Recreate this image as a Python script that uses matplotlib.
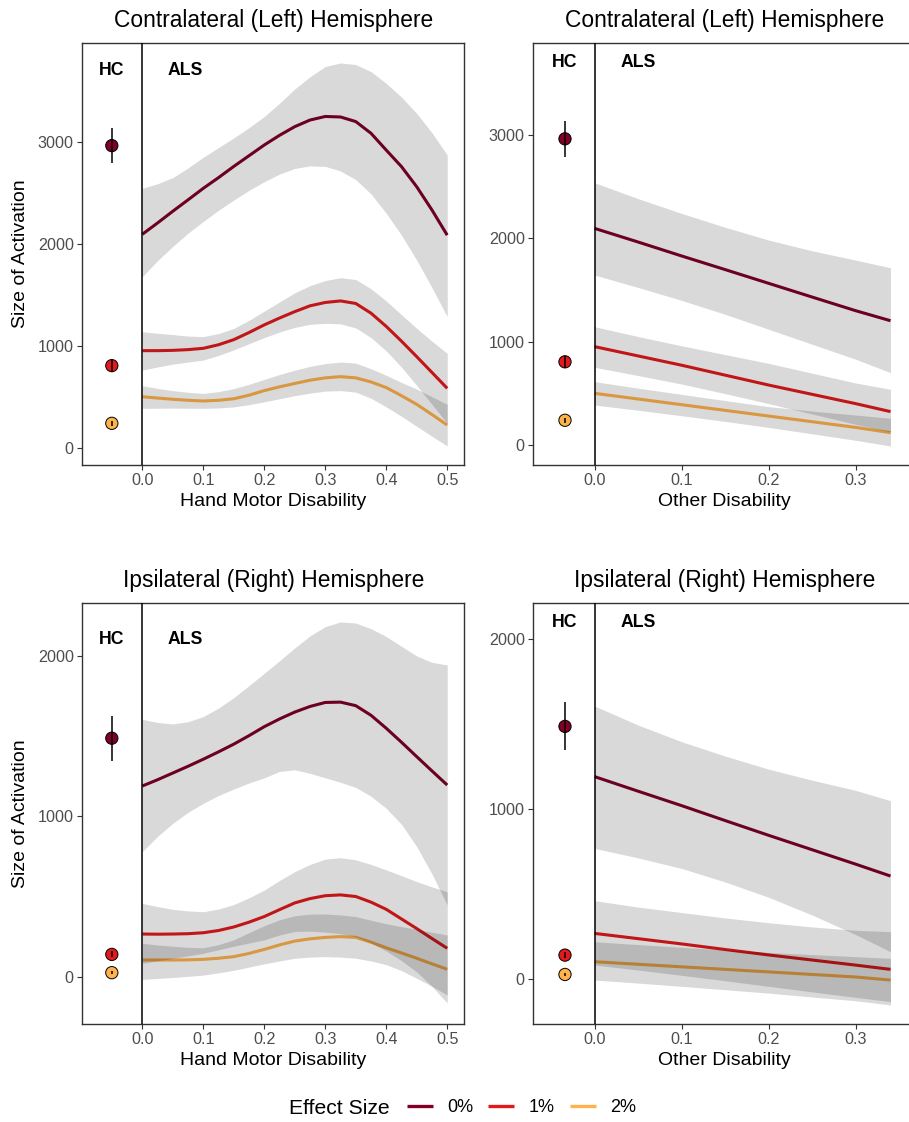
import matplotlib
matplotlib.use('Agg')
import matplotlib.pyplot as plt
from matplotlib.lines import Line2D

plt.rcParams['font.family'] = ['Liberation Sans', 'DejaVu Sans']

# ---------------- data ----------------
GROUPS = ['0%', '1%', '2%']
COLORS = ['#800026', '#E31A1C', '#FEB24C']

# Hand motor disability grid (left panels)
X_HAND = [0.0, 0.025, 0.05, 0.075, 0.10, 0.125, 0.15, 0.175, 0.20, 0.225, 0.25,
          0.275, 0.30, 0.325, 0.35, 0.375, 0.40, 0.425, 0.45, 0.475, 0.50]
# Other disability grid (right panels)
X_OTHER = [0.0, 0.05, 0.10, 0.15, 0.20, 0.25, 0.30, 0.34]

# Top-left: contralateral, hand motor
TL_FIT_0 = [2094, 2205, 2320, 2432, 2545, 2650, 2760, 2865, 2970, 3065, 3150, 3215, 3250, 3245, 3200, 3085, 2920, 2758, 2560, 2332, 2085]
TL_HI_0 = [2545, 2590, 2650, 2745, 2850, 2945, 3040, 3140, 3250, 3380, 3520, 3640, 3740, 3775, 3760, 3690, 3575, 3440, 3280, 3090, 2872]
TL_LO_0 = [1678, 1835, 1975, 2105, 2220, 2330, 2430, 2525, 2610, 2685, 2740, 2765, 2760, 2715, 2630, 2490, 2300, 2085, 1840, 1570, 1285]
TL_FIT_1 = [952, 952, 955, 962, 975, 1010, 1060, 1130, 1205, 1272, 1335, 1392, 1425, 1440, 1415, 1320, 1190, 1045, 893, 738, 582]
TL_HI_1 = [1138, 1122, 1110, 1095, 1090, 1120, 1170, 1250, 1340, 1430, 1520, 1590, 1640, 1668, 1650, 1560, 1440, 1305, 1171, 1045, 926]
TL_LO_1 = [762, 792, 820, 840, 860, 905, 960, 1020, 1080, 1135, 1180, 1210, 1220, 1215, 1175, 1080, 950, 790, 610, 425, 239]
TL_FIT_2 = [500, 487, 475, 465, 458, 465, 480, 515, 560, 597, 630, 662, 685, 697, 685, 645, 590, 510, 425, 325, 222]
TL_HI_2 = [608, 582, 560, 543, 533, 550, 580, 622, 670, 718, 760, 798, 825, 840, 830, 775, 710, 640, 575, 500, 425]
TL_LO_2 = [386, 387, 388, 387, 386, 390, 400, 422, 450, 480, 510, 535, 555, 560, 545, 485, 400, 308, 210, 112, 16]

# Top-right: contralateral, other disability
TR_FIT_0 = [2097, 1965, 1830, 1698, 1565, 1432, 1300, 1203]
TR_HI_0 = [2539, 2385, 2242, 2108, 1984, 1880, 1790, 1716]
TR_LO_0 = [1645, 1525, 1400, 1265, 1120, 975, 830, 700]
TR_FIT_1 = [952, 862, 772, 676, 580, 490, 400, 323]
TR_HI_1 = [1145, 1050, 960, 875, 790, 695, 600, 539]
TR_LO_1 = [752, 672, 590, 497, 400, 300, 200, 125]
TR_FIT_2 = [500, 445, 390, 335, 280, 225, 170, 119]
TR_HI_2 = [613, 550, 490, 430, 371, 328, 290, 258]
TR_LO_2 = [387, 336, 283, 228, 170, 108, 45, -10]

# Bottom-left: ipsilateral, hand motor
BL_FIT_0 = [1189, 1228, 1270, 1312, 1356, 1402, 1450, 1503, 1559, 1607, 1650, 1685, 1710, 1712, 1690, 1630, 1549, 1462, 1372, 1283, 1195]
BL_HI_0 = [1605, 1585, 1576, 1590, 1622, 1675, 1740, 1815, 1892, 1970, 2050, 2125, 2183, 2212, 2205, 2170, 2121, 2060, 2000, 1960, 1944]
BL_LO_0 = [780, 875, 956, 1025, 1081, 1130, 1170, 1208, 1240, 1280, 1290, 1268, 1240, 1212, 1180, 1125, 1050, 950, 811, 640, 447]
BL_FIT_1 = [266, 265, 266, 268, 274, 288, 310, 340, 375, 418, 460, 487, 505, 510, 500, 465, 420, 360, 300, 238, 177]
BL_HI_1 = [457, 437, 420, 410, 405, 422, 450, 492, 540, 600, 655, 700, 733, 742, 729, 700, 666, 630, 593, 560, 530]
BL_LO_1 = [83, 99, 115, 130, 146, 168, 190, 210, 230, 260, 282, 284, 278, 268, 250, 210, 160, 100, 30, -60, -164]
BL_FIT_2 = [104, 104, 104, 105, 108, 115, 125, 145, 170, 198, 222, 236, 245, 250, 245, 215, 180, 148, 115, 80, 46]
BL_HI_2 = [208, 198, 190, 183, 180, 200, 230, 275, 318, 355, 380, 390, 391, 385, 375, 352, 330, 312, 295, 277, 260]
BL_LO_2 = [-17, -11, -5, 2, 10, 24, 40, 60, 80, 98, 115, 122, 125, 122, 115, 98, 75, 38, -10, -60, -114]

# Bottom-right: ipsilateral, other disability
BR_FIT_0 = [1191, 1105, 1020, 932, 845, 760, 675, 605]
BR_HI_0 = [1607, 1495, 1397, 1312, 1235, 1170, 1110, 1049]
BR_LO_0 = [768, 712, 650, 570, 480, 375, 260, 159]
BR_FIT_1 = [267, 236, 205, 172, 140, 110, 80, 55]
BR_HI_1 = [460, 422, 390, 358, 330, 305, 285, 277]
BR_LO_1 = [81, 51, 20, -12, -45, -78, -110, -135]
BR_FIT_2 = [100, 85, 70, 55, 40, 25, 10, -8]
BR_HI_2 = [218, 201, 185, 170, 155, 142, 130, 120]
BR_LO_2 = [-8, -26, -45, -65, -85, -108, -130, -155]

# Healthy controls (mean and interval), per hemisphere
TOP_HC_MEAN = [2964, 805, 239]
TOP_HC_LO = [2790, 745, 210]
TOP_HC_HI = [3134, 862, 265]
BOT_HC_MEAN = [1487, 139, 25]
BOT_HC_LO = [1347, 120, 15]
BOT_HC_HI = [1628, 158, 35]

HAND_TICKS = [0.0, 0.1, 0.2, 0.3, 0.4, 0.5]
HAND_TICKLABELS = ['0.0', '0.1', '0.2', '0.3', '0.4', '0.5']
OTHER_TICKS = [0.0, 0.1, 0.2, 0.3]
OTHER_TICKLABELS = ['0.0', '0.1', '0.2', '0.3']
TOP_YTICKS = [0, 1000, 2000, 3000]
BOT_YTICKS = [0, 1000, 2000]

# ---------------- figure ----------------
W, H = 909, 1122
fig = plt.figure(figsize=(W / 100, H / 100), dpi=100)


def rect(l, r, t, b):
    return [l / W, 1 - b / H, (r - l) / W, (b - t) / H]


panels = [
    dict(rect=rect(82.3, 464.3, 43.3, 465), xlim=(-0.0984, 0.528), ylim=(-170, 3968),
         x=X_HAND, fits=[TL_FIT_0, TL_FIT_1, TL_FIT_2], los=[TL_LO_0, TL_LO_1, TL_LO_2],
         his=[TL_HI_0, TL_HI_1, TL_HI_2], hc=(TOP_HC_MEAN, TOP_HC_LO, TOP_HC_HI),
         hcx=-0.05, alsx=0.07, laby=3700, xt=HAND_TICKS, xtl=HAND_TICKLABELS, yt=TOP_YTICKS,
         xlabel='Hand Motor Disability', title='Contralateral (Left) Hemisphere', ylab=True),
    dict(rect=rect(533.3, 916, 43.3, 465), xlim=(-0.0704, 0.3693), ylim=(-194, 3889),
         x=X_OTHER, fits=[TR_FIT_0, TR_FIT_1, TR_FIT_2], los=[TR_LO_0, TR_LO_1, TR_LO_2],
         his=[TR_HI_0, TR_HI_1, TR_HI_2], hc=(TOP_HC_MEAN, TOP_HC_LO, TOP_HC_HI),
         hcx=-0.034, alsx=0.05, laby=3700, xt=OTHER_TICKS, xtl=OTHER_TICKLABELS, yt=TOP_YTICKS,
         xlabel='Other Disability', title='Contralateral (Left) Hemisphere', ylab=False),
    dict(rect=rect(82.3, 464.3, 602.7, 1024), xlim=(-0.0984, 0.528), ylim=(-295, 2332),
         x=X_HAND, fits=[BL_FIT_0, BL_FIT_1, BL_FIT_2], los=[BL_LO_0, BL_LO_1, BL_LO_2],
         his=[BL_HI_0, BL_HI_1, BL_HI_2], hc=(BOT_HC_MEAN, BOT_HC_LO, BOT_HC_HI),
         hcx=-0.05, alsx=0.07, laby=2100, xt=HAND_TICKS, xtl=HAND_TICKLABELS, yt=BOT_YTICKS,
         xlabel='Hand Motor Disability', title='Ipsilateral (Right) Hemisphere', ylab=True),
    dict(rect=rect(533.3, 916, 602.7, 1024), xlim=(-0.0704, 0.3693), ylim=(-267, 2216),
         x=X_OTHER, fits=[BR_FIT_0, BR_FIT_1, BR_FIT_2], los=[BR_LO_0, BR_LO_1, BR_LO_2],
         his=[BR_HI_0, BR_HI_1, BR_HI_2], hc=(BOT_HC_MEAN, BOT_HC_LO, BOT_HC_HI),
         hcx=-0.034, alsx=0.05, laby=2100, xt=OTHER_TICKS, xtl=OTHER_TICKLABELS, yt=BOT_YTICKS,
         xlabel='Other Disability', title='Ipsilateral (Right) Hemisphere', ylab=False),
]

for p in panels:
    ax = fig.add_axes(p['rect'])
    ax.set_xlim(*p['xlim'])
    ax.set_ylim(*p['ylim'])
    x = p['x']
    # fitted lines (below the ribbons)
    for fit, col in zip(p['fits'], COLORS):
        ax.plot(x, fit, color=col, lw=2.2, solid_capstyle='butt',
                solid_joinstyle='round', zorder=2)
    # confidence ribbons
    for lo, hi in zip(p['los'], p['his']):
        ax.fill_between(x, lo, hi, color='black', alpha=0.15, lw=0, zorder=3)
    ax.axvline(0, color='black', lw=1.1, zorder=4)
    # healthy controls
    mean, lo, hi = p['hc']
    hx = [p['hcx']] * len(mean)
    ax.scatter(hx, mean, s=78, c=COLORS, edgecolors='black', linewidths=0.7, zorder=5)
    ax.vlines(hx, lo, hi, color='black', lw=1.1, zorder=6)
    # group labels
    ax.text(p['hcx'], p['laby'], 'HC', ha='center', va='center', fontsize=12.7,
            fontweight='bold', color='black')
    ax.text(p['alsx'], p['laby'], 'ALS', ha='center', va='center', fontsize=12.7,
            fontweight='bold', color='black')
    # axes styling
    ax.set_xticks(p['xt'])
    ax.set_xticklabels(p['xtl'])
    ax.set_yticks(p['yt'])
    ax.set_yticklabels([str(v) for v in p['yt']])
    ax.tick_params(direction='out', length=3.6, width=0.8, color='#333333',
                   labelcolor='#4D4D4D', labelsize=11.6, pad=2.5)
    for s in ax.spines.values():
        s.set_color('#333333')
        s.set_linewidth(1.0)
    axh = p['rect'][3] * H
    ax.set_xlabel(p['xlabel'], fontsize=14, color='black', va='center')
    ax.xaxis.set_label_coords(0.5, -36.7 / axh)
    if p['ylab']:
        axw = p['rect'][2] * W
        ax.set_ylabel('Size of Activation', fontsize=14, color='black', va='center')
        ax.yaxis.set_label_coords(-(82.3 - 21) / axw, 0.5)
    ax.text(0.5, 1 + 22.6 / axh, p['title'], transform=ax.transAxes, ha='center',
            va='center', fontsize=16.4, color='black')

# legend
handles = [Line2D([], [], color=c, lw=2.4, solid_capstyle='butt') for c in COLORS]
leg = fig.legend(handles, GROUPS, loc='center left',
                 bbox_to_anchor=(406.7 / W, 1 - 1108 / H), ncol=3, frameon=False,
                 fontsize=13, handlelength=1.44, handletextpad=0.78,
                 columnspacing=0.85, borderpad=0, borderaxespad=0)
fig.text(289 / W, 1 - 1108 / H, 'Effect Size', ha='left', va='center', fontsize=15.2)

fig.savefig('out.png', dpi=100)
